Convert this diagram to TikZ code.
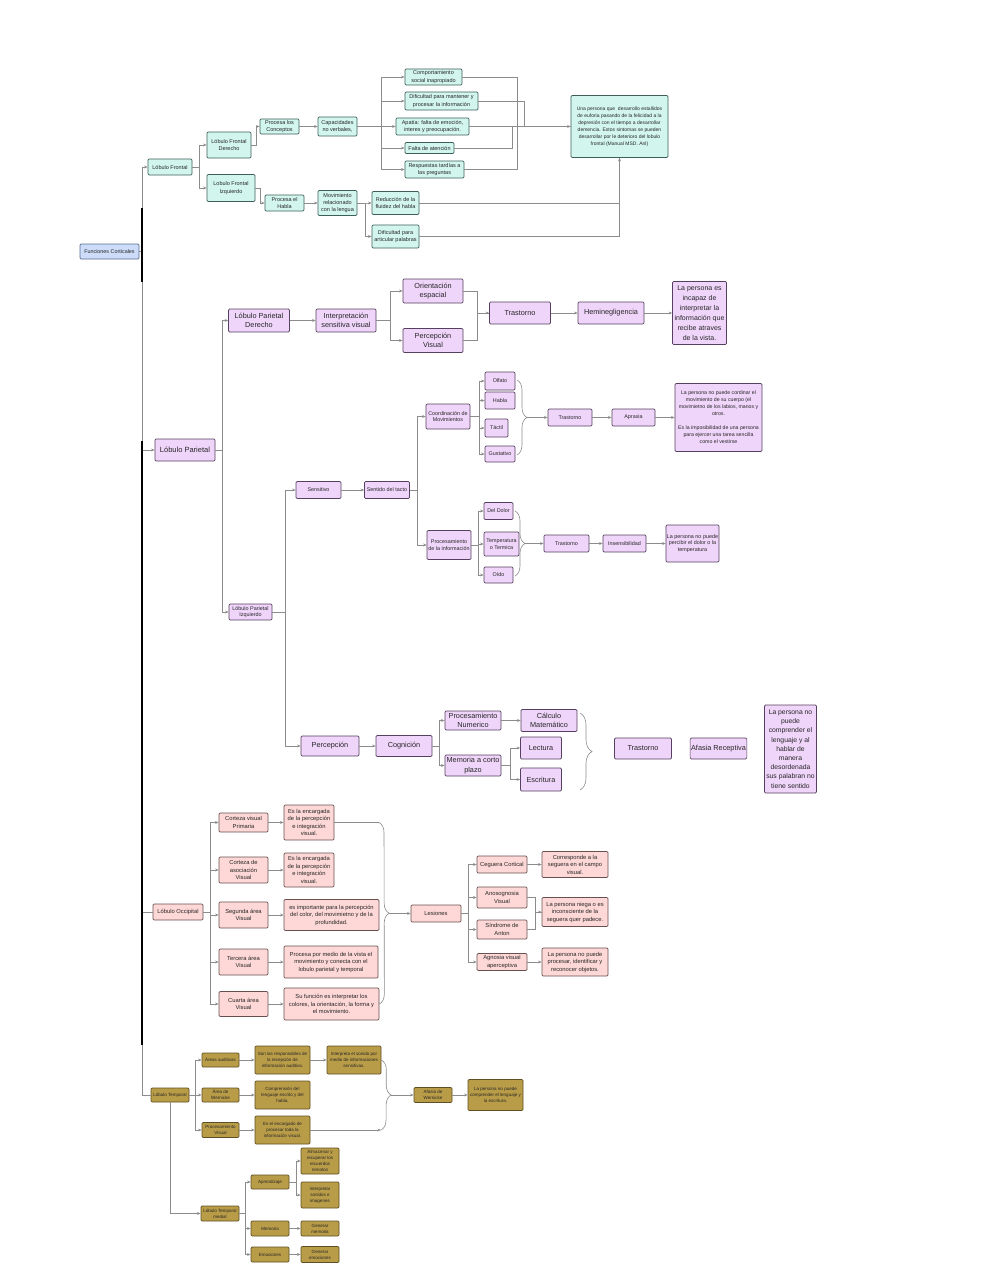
\documentclass[tikz,border=0pt]{standalone}
\usepackage{fontspec}
\setmainfont{Liberation Sans}
\usetikzlibrary{arrows.meta,decorations.pathreplacing}
\definecolor{menta}{RGB}{210,245,238}\definecolor{mentaosc}{RGB}{60,95,90}
\definecolor{celeste}{RGB}{205,221,249}\definecolor{celesteosc}{RGB}{85,105,145}
\definecolor{lila}{RGB}{240,213,250}\definecolor{lilaosc}{RGB}{85,65,95}
\definecolor{rosa}{RGB}{253,216,214}\definecolor{rosaosc}{RGB}{105,80,80}
\definecolor{oro}{RGB}{185,156,72}\definecolor{oroosc}{RGB}{95,80,35}
\definecolor{linea}{RGB}{140,140,140}
\tikzset{>={Stealth[length=3.5pt,width=2.8pt]},every node/.style={align=center,inner sep=1pt,text=black!85},
  flow/.style={draw=linea,line width=.6pt,->},edge/.style={draw=linea,line width=.6pt},
  llave/.style={edge,decorate,decoration={brace,amplitude=#1}},
  wh/.style 2 args={minimum width=#1,minimum height=#2},
  caja/.style={rounded corners=1.2pt,line width=.7pt},
  raiz/.style={caja,draw=celesteosc,fill=celeste,font=\fontsize{5.4}{7}\selectfont},
  frontal/.style={caja,draw=mentaosc,fill=menta,font=\fontsize{5.5}{7.3}\selectfont},
  parietal/.style={caja,draw=lilaosc,fill=lila,font=\fontsize{5.4}{6.8}\selectfont},
  pargrande/.style={parietal,font=\fontsize{7.3}{9.5}\selectfont},
  occipital/.style={caja,draw=rosaosc,fill=rosa,font=\fontsize{5.8}{7.5}\selectfont},
  temporal/.style={caja,draw=oroosc,fill=oro,font=\fontsize{4.5}{6}\selectfont}}
\begin{document}
\begin{tikzpicture}[x=1pt,y=-1pt]
\fill[white] (0,0) rectangle (989,1280);\useasboundingbox (0,0) rectangle (989,1280);
\node[raiz,wh={59}{15}] (raiz) at (109.5,251.5) {Funciones Corticales};
\node[frontal,wh={44}{16}] (lf) at (170,167) {Lóbulo Frontal};
\node[frontal,wh={44}{26}] (lfd) at (229,145) {Lóbulo Frontal\\Derecho};
\node[frontal,wh={48}{27}] (lfi) at (231,188) {Lobulo Frontal\\Izquierdo};
\node[frontal,wh={39}{15}] (plc) at (279.5,126.5) {Procesa los\\Conceptos};
\node[frontal,wh={39}{19}] (cnv) at (337.5,126.5) {Capacidades\\no verbales,};
\node[frontal,wh={57}{16}] (csi) at (433.5,77) {Comportamiento\\social inapropiado};
\node[frontal,wh={73}{18}] (dpm) at (441.5,101) {Dificultad para mantener y\\procesar la información};
\node[frontal,wh={73}{17}] (apa) at (432.5,126.5) {Apatía: falta de emoción,\\interes y preocupación.};
\node[frontal,wh={49}{11}] (fat) at (429.5,148) {Falta de atención};
\node[frontal,wh={59}{17}] (rtp) at (434.5,169.5) {Respuestas tardías a\\las preguntas};
\node[frontal,wh={97}{62},font=\fontsize{5}{7}\selectfont] (sint) at (619.5,126.5) {Una persona que\ \ desarrollo estallidos\\de euforia pasando de la felicidad a la\\depresión con el tiempo a desarrollar\\demencia. Estos sintomas se pueden\\desarrollar por le deterioro del lobulo\\frontal (Manual MSD. Anl)};
\node[frontal,wh={39}{16}] (peh) at (284.5,203) {Procesa el\\Habla};
\node[frontal,wh={39}{25}] (mrl) at (337.5,203) {Movimiento\\relacionado\\con la lengua};
\node[frontal,wh={47}{23}] (rfh) at (395.5,203) {Reducción de la\\fluidez del habla};
\node[frontal,wh={47}{23}] (dap) at (395.5,236.5) {Dificultad para\\articular palabras};
\node[parietal,wh={60}{22},font=\fontsize{7.5}{9}\selectfont] (lp) at (185,450) {Lóbulo Parietal};
\node[pargrande,wh={61}{23}] (lpd) at (259,320.5) {Lóbulo Parietal\\Derecho};
\node[pargrande,wh={60}{23}] (isv) at (346,320.5) {Interpretación\\sensitiva visual};
\node[pargrande,wh={60}{24}] (oes) at (433,291) {Orientación\\espacial};
\node[pargrande,wh={60}{24}] (pvi) at (433,340.5) {Percepción\\Visual};
\node[pargrande,wh={61}{22}] (tr1) at (520,313) {Trastorno};
\node[pargrande,wh={66}{22}] (hem) at (611,313) {Heminegligencia};
\node[parietal,wh={54}{63},font=\fontsize{7}{10}\selectfont] (pi1) at (699.5,313) {La persona es\\incapaz de\\interpretar la\\información que\\recibe atraves\\de la vista.};
\node[parietal,wh={43}{16}] (lpi) at (250.5,612) {Lóbulo Parietal\\Izquierdo};
\node[parietal,wh={45}{17}] (sen) at (318.5,490) {Sensitivo};
\node[parietal,wh={45}{17}] (tac) at (387,490) {Sentido del tacto};
\node[parietal,wh={44}{25}] (coo) at (448,416.5) {Coordinación de\\Movimientos};
\node[parietal,wh={30}{18}] (olf) at (500,381) {Olfato};
\node[parietal,wh={30}{17}] (hab) at (500,400.5) {Habla};
\node[parietal,wh={23}{18}] (tct) at (496.5,428) {Táctil};
\node[parietal,wh={30}{16}] (gus) at (500,454) {Gustativo};
\node[parietal,wh={44}{17}] (tr2) at (570,417.5) {Trastorno};
\node[parietal,wh={43}{17}] (apx) at (633.5,417.5) {Apraxia};
\node[parietal,wh={87}{68},font=\fontsize{5.2}{7}\selectfont] (pcor) at (718.5,417.5) {La persona no puede cordinar el\\movimiento de su cuerpo (el\\movimietno de los labios, manos y\\otros.\\[7pt]Es la imposibilidad de una persona\\para ejercer una tarea sencilla\\como el vestirse};
\node[parietal,wh={44}{29}] (pro) at (449,545) {Procesamiento\\de la información};
\node[parietal,wh={29}{17}] (dol) at (498.5,511) {Del Dolor};
\node[parietal,wh={35}{24}] (tem) at (501.5,544) {Temperatura\\o Termica};
\node[parietal,wh={29}{16}] (oid) at (498.5,575) {Oído};
\node[parietal,wh={45}{17}] (tr3) at (566.5,543.5) {Trastorno};
\node[parietal,wh={43}{17}] (ins) at (624.5,543.5) {Insensibilidad};
\node[parietal,wh={53}{37}] (ppd) at (692.5,543.5) {La persona no puede\\percibir el dolor o la\\temperatura};
\node[pargrande,wh={58}{20}] (perc) at (330,746) {Percepción};
\node[pargrande,wh={56}{21}] (cog) at (404,746) {Cognición};
\node[pargrande,wh={56}{19}] (pnum) at (473,720.5) {Procesamiento\\Numerico};
\node[pargrande,wh={56}{22}] (calc) at (549,720.5) {Cálculo\\Matemático};
\node[pargrande,wh={56}{21}] (mcp) at (473,765.5) {Memoria a corto\\plazo};
\node[pargrande,wh={41}{22}] (lec) at (541,748) {Lectura};
\node[pargrande,wh={41}{23}] (esc) at (541,779.5) {Escritura};
\node[pargrande,wh={57}{21}] (tr4) at (643,748.5) {Trastorno};
\node[pargrande,wh={56}{21}] (arec) at (718.5,748.5) {Afasia Receptiva};
\node[parietal,wh={52}{88},font=\fontsize{6.8}{9.2}\selectfont] (pcom) at (790.5,749) {La persona no\\puede\\comprender el\\lenguaje y al\\hablar de\\manera\\desordenada\\sus palabran no\\tiene sentido};
\node[occipital,wh={50}{16}] (lo) at (178,912) {Lóbulo Occipital};
\node[occipital,wh={49}{19}] (cvp) at (243.5,822.5) {Corteza visual\\Primaria};
\node[occipital,wh={50}{35}] (enc1) at (309,822.5) {Es la encargada\\de la percepción\\e integración\\visual.};
\node[occipital,wh={49}{26}] (cav) at (243.5,870) {Corteza de\\asociación\\Visual};
\node[occipital,wh={50}{34}] (enc2) at (309,870) {Es la encargada\\de la percepción\\e integración\\visual.};
\node[occipital,wh={49}{26}] (sav) at (243.5,915) {Segunda área\\Visual};
\node[occipital,wh={95}{31}] (imp) at (331.5,915) {es importante para la percepción\\del color, del movimietno y de la\\profundidad.};
\node[occipital,wh={49}{26}] (tav) at (243.5,962) {Tercera área\\Visual};
\node[occipital,wh={94}{32}] (pmv) at (331,962) {Procesa por medio de la vista el\\movimiento y conecta con el\\lobulo parietal y temporal};
\node[occipital,wh={49}{25}] (cuav) at (243.5,1004) {Cuarta área\\Visual};
\node[occipital,wh={95}{32}] (sfu) at (331.5,1004) {Su función es interpretar los\\colores, la orientación, la forma y\\el movimiento.};
\node[occipital,wh={50}{17}] (les) at (436,913.5) {Lesiones};
\node[occipital,wh={50}{17}] (cco) at (502,864.5) {Ceguera Cortical};
\node[occipital,wh={66}{26}] (cor) at (575,864.5) {Corresponde a la\\seguera en el campo\\visual.};
\node[occipital,wh={50}{21}] (anv) at (502,897.5) {Anosognosia\\Visual};
\node[occipital,wh={50}{19}] (sda) at (502,929.5) {Síndrome de\\Anton};
\node[occipital,wh={66}{29}] (nie) at (575,912) {La persona niega o es\\inconsciente de la\\seguera quer padece.};
\node[occipital,wh={50}{17}] (avp) at (502,962) {Agnosia visual\\aperceptiva};
\node[occipital,wh={66}{28}] (npr) at (575,962) {La persona no puede\\procesar, identificar y\\reconocer objetos.};
\node[temporal,wh={38}{14}] (lt) at (170,1095) {Lóbulo Temporal};
\node[temporal,wh={37}{14}] (aud) at (220.5,1060) {Áreas auditivas};
\node[temporal,wh={55}{28}] (resp) at (282.5,1060) {Son las responsables de\\la recepción de\\información auditiva.};
\node[temporal,wh={54}{28}] (intp) at (354,1060) {Interpreta el sonido por\\medio de informaciones\\sensitivas.};
\node[temporal,wh={37}{14}] (wer) at (220.5,1095) {Área de\\Wernicke};
\node[temporal,wh={55}{28}] (comp) at (282.5,1095) {Comprensión del\\lenguaje escrito y del\\habla.};
\node[temporal,wh={37}{15}] (pvis) at (220.5,1130) {Procesamiento\\Visual};
\node[temporal,wh={55}{28}] (encv) at (282.5,1130) {Es el encargado de\\procesar toda la\\información visual.};
\node[temporal,wh={38}{15}] (afw) at (433,1095) {Afasia de\\Wernicke};
\node[temporal,wh={55}{31}] (lpt) at (495.5,1095) {La persona no puede\\comprender el lenguaje y\\la escritura.};
\node[temporal,wh={38}{15}] (ltm) at (220,1213.5) {Lóbulo Temporal\\medial};
\node[temporal,wh={38}{14}] (apr) at (270,1182) {Aprendizaje};
\node[temporal,wh={38}{26}] (alm) at (320,1161) {Almacenar y\\recuperar los\\recuerdos\\remotos};
\node[temporal,wh={38}{26}] (isi) at (320,1195) {Interpretar\\sonidos e\\imagenes};
\node[temporal,wh={38}{15}] (mem) at (270,1228.5) {Memoria};
\node[temporal,wh={38}{15}] (gme) at (320,1228.5) {Generar\\memoria};
\node[temporal,wh={38}{15}] (emo) at (270,1254.5) {Emociones};
\node[temporal,wh={38}{16}] (gem) at (320,1254.5) {Generar\\emociones};
\coordinate (b1a) at (517,380);\coordinate (b1b) at (517,455);\coordinate (b1t) at (527,417.5);
\coordinate (b2a) at (515,511);\coordinate (b2b) at (515,576);\coordinate (b2t) at (525,543.5);
\coordinate (b3a) at (580,713);\coordinate (b3b) at (580,790);
\coordinate (b4a) at (379,822.5);\coordinate (b4t) at (389,913.5);
\coordinate (b5b) at (381,1130);\coordinate (b5t) at (391,1095);
\draw[flow] (raiz.east) -- ++(3,0) |- (lf.west);\draw[flow] (raiz.east) -- ++(3,0) |- (lp.west);
\draw[edge] (raiz.east) -- ++(3,0) |- (lo.west);\draw[edge] (raiz.east) -- ++(3,0) |- (lt.west);
\draw[line width=2.6pt] (142,208) -- (142,282) (142,441) -- (142,1045);
\draw[flow] (lf.east) -- ++(7,0) |- (lfd.west);\draw[flow] (lf.east) -- ++(7,0) |- (lfi.west);
\draw[flow] (lfd.east) -- ++(5,0) |- (plc.west);\draw[flow] (plc) -- (cnv);
\draw[flow] (cnv.east) -- ++(24,0) |- (csi.west);\draw[flow] (cnv.east) -- ++(24,0) |- (dpm.west);
\draw[flow] (cnv.east) -- ++(24,0) |- (apa.west);\draw[flow] (cnv.east) -- ++(24,0) |- (fat.west);
\draw[flow] (cnv.east) -- ++(24,0) |- (rtp.west);
\draw[edge] (csi.east) -- ++(55,0) |- (sint.west);\draw[edge] (dpm.east) -- ++(46,0) |- (sint.west);
\draw[edge] (fat.east) -- ++(58,0) |- (sint.west);\draw[edge] (rtp.east) -- ++(53,0) |- (sint.west);
\draw[flow] (apa) -- (sint);
\draw[flow] (lfi.east) -- ++(5,0) |- (peh.west);\draw[flow] (peh) -- (mrl);
\draw[flow] (mrl.east) -- ++(8,0) |- (rfh.west);\draw[flow] (mrl.east) -- ++(8,0) |- (dap.west);
\draw[edge] (rfh.east) -| (sint.south);\draw[flow] (dap.east) -| (sint.south);
\draw[flow] (lp.east) -- ++(7,0) |- (lpd.west);\draw[flow] (lp.east) -- ++(7,0) |- (lpi.west);
\draw[flow] (lpd) -- (isv);
\draw[flow] (isv.east) -- ++(14,0) |- (oes.west);\draw[flow] (isv.east) -- ++(14,0) |- (pvi.west);
\draw[edge] (oes.east) -- ++(14,0) |- (tr1.west);\draw[flow] (pvi.east) -- ++(14,0) |- (tr1.west);
\draw[flow] (tr1) -- (hem);\draw[flow] (hem) -- (pi1);
\draw[flow] (lpi.east) -- ++(13,0) |- (sen.west);\draw[flow] (lpi.east) -- ++(13,0) |- (perc.west);
\draw[flow] (sen) -- (tac);
\draw[flow] (tac.east) -- ++(7,0) |- (coo.west);\draw[flow] (tac.east) -- ++(7,0) |- (pro.west);
\draw[flow] (coo.east) -- ++(9,0) |- (olf.west);\draw[flow] (coo.east) -- ++(9,0) |- (hab.west);
\draw[flow] (coo.east) -- ++(9,0) |- (tct.west);\draw[flow] (coo.east) -- ++(9,0) |- (gus.west);
\draw[llave=10] (b1a) -- (b1b);\draw[flow] (b1t) -- (tr2);\draw[flow] (tr2) -- (apx);\draw[flow] (apx) -- (pcor);
\draw[flow] (pro.east) -- ++(7,0) |- (dol.west);\draw[flow] (pro.east) -- ++(7,0) |- (tem.west);
\draw[flow] (pro.east) -- ++(7,0) |- (oid.west);
\draw[llave=10] (b2a) -- (b2b);\draw[flow] (b2t) -- (tr3);\draw[flow] (tr3) -- (ins);\draw[flow] (ins) -- (ppd);
\draw[flow] (perc) -- (cog);
\draw[flow] (cog.east) -- ++(7,0) |- (pnum.west);\draw[flow] (cog.east) -- ++(7,0) |- (mcp.west);
\draw[flow] (pnum) -- (calc);
\draw[flow] (mcp.east) -- ++(9,0) |- (lec.west);\draw[flow] (mcp.east) -- ++(9,0) |- (esc.west);
\draw[llave=12] (b3a) -- (b3b);
\draw[flow] (lo.east) -- ++(7,0) |- (cvp.west);\draw[flow] (lo.east) -- ++(7,0) |- (cav.west);
\draw[flow] (lo.east) -- ++(7,0) |- (sav.west);\draw[flow] (lo.east) -- ++(7,0) |- (tav.west);
\draw[flow] (lo.east) -- ++(7,0) |- (cuav.west);
\draw[flow] (cvp) -- (enc1);\draw[flow] (cav) -- (enc2);\draw[flow] (sav) -- (imp);
\draw[flow] (tav) -- (pmv);\draw[flow] (cuav) -- (sfu);
\draw[edge] (enc1.east) -- (b4a);\draw[llave=10] (b4a) -- (sfu.east);\draw[flow] (b4t) -- (les);
\draw[flow] (les.east) -- ++(7,0) |- (cco.west);\draw[flow] (les.east) -- ++(7,0) |- (anv.west);
\draw[flow] (les.east) -- ++(7,0) |- (sda.west);\draw[flow] (les.east) -- ++(7,0) |- (avp.west);
\draw[flow] (cco) -- (cor);\draw[flow] (avp) -- (npr);
\draw[edge] (anv.east) -- ++(8,0) |- (nie.west);\draw[flow] (sda.east) -- ++(8,0) |- (nie.west);
\draw[flow] (lt.east) -- ++(6,0) |- (aud.west);\draw[flow] (lt.east) -- ++(6,0) |- (wer.west);
\draw[flow] (lt.east) -- ++(6,0) |- (pvis.west);
\draw[flow] (aud) -- (resp);\draw[flow] (resp) -- (intp);\draw[flow] (wer) -- (comp);\draw[flow] (pvis) -- (encv);
\draw[flow] (encv.east) -- (b5b);\draw[llave=10] (intp.east) -- (b5b);
\draw[flow] (b5t) -- (afw);\draw[flow] (afw) -- (lpt);
\draw[flow] (lt.south) |- (ltm.west);
\draw[flow] (ltm.east) -- ++(6,0) |- (apr.west);\draw[flow] (ltm.east) -- ++(6,0) |- (mem.west);
\draw[flow] (ltm.east) -- ++(6,0) |- (emo.west);
\draw[flow] (apr.east) -- ++(7,0) |- (alm.west);\draw[flow] (apr.east) -- ++(7,0) |- (isi.west);
\draw[flow] (mem) -- (gme);\draw[flow] (emo) -- (gem);
\end{tikzpicture}
\end{document}
